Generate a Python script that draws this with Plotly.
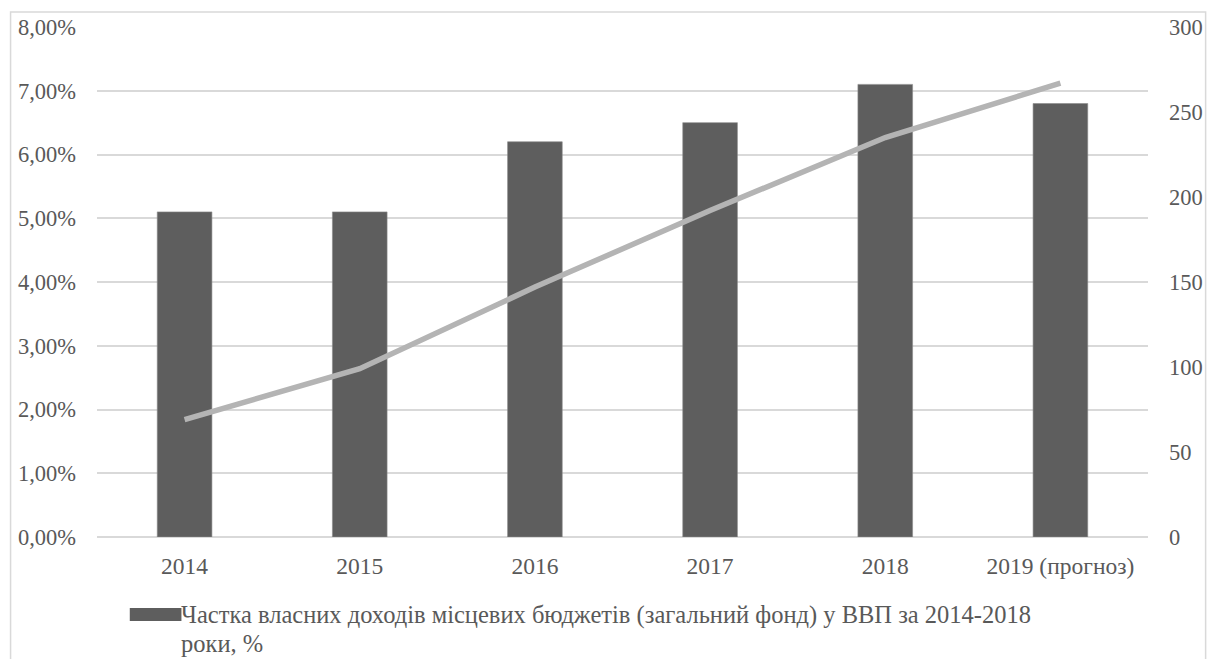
import plotly.graph_objects as go

# Categories and series
years = ["2014", "2015", "2016", "2017", "2018", "2019 (прогноз)"]
share_pct = [5.10, 5.10, 6.20, 6.50, 7.10, 6.80]          # % of GDP (left axis)
revenue = [69, 99, 147, 192, 235, 267]                     # right axis
bar_name_lines = ["Частка власних доходів місцевих бюджетів (загальний фонд) у ВВП за 2014-2018",
                  "роки, %"]

W, H = 1215, 659
L, R, T, B = 97, 60, 27, 122
plot_w = W - L - R
plot_h = H - T - B

def px_x(px):
    return (px - L) / plot_w

def px_y(py):
    return (H - B - py) / plot_h

FONT = "Liberation Serif"
TXT = "#595959"
GRID = "#d9d9d9"
BAR = "#5e5e5e"
LINE = "#b4b4b4"

fig = go.Figure()
fig.add_trace(go.Bar(
    x=years, y=[v / 100 for v in share_pct], name=" ".join(bar_name_lines),
    marker=dict(color=BAR, line=dict(color="#8a8a8a", width=0.6)),
    yaxis="y", showlegend=False,
))
fig.add_trace(go.Scatter(
    x=years, y=revenue, mode="lines",
    line=dict(color=LINE, width=5.5),
    yaxis="y2", showlegend=False,
))

# Legend entry for the bar series (symbol + two text lines)
fig.add_shape(type="rect", xref="paper", yref="paper",
              x0=px_x(130), x1=px_x(182), y0=px_y(621), y1=px_y(608),
              fillcolor=BAR, line=dict(width=0))
for i, line_text in enumerate(bar_name_lines):
    fig.add_annotation(xref="paper", yref="paper", x=px_x(181), y=px_y(615 + 28 * i),
                       xanchor="left", yanchor="middle", align="left", showarrow=False,
                       borderpad=0,
                       text=line_text, font=dict(family=FONT, size=24.5, color=TXT))

# Outer chart frame
fig.add_shape(type="rect", xref="paper", yref="paper",
              x0=px_x(10), x1=px_x(1213), y0=px_y(700), y1=px_y(12),
              line=dict(color="#d9d9d9", width=1.5), fillcolor="rgba(0,0,0,0)", layer="below")

fig.update_layout(
    width=W, height=H,
    margin=dict(l=L, r=R, t=T, b=B),
    paper_bgcolor="white", plot_bgcolor="white",
    separators=", ",
    bargap=0.688,
    font=dict(family=FONT, size=23, color=TXT),
    xaxis=dict(showgrid=False, showline=False, ticks="", ticklabelstandoff=12,
               tickfont=dict(family=FONT, size=23.5, color=TXT)),
    yaxis=dict(range=[0, 0.08], dtick=0.01, tickformat=".2%",
               showgrid=True, gridcolor=GRID, gridwidth=1.5,
               zeroline=True, zerolinecolor=GRID, zerolinewidth=1.5,
               showline=False, ticks="", ticklabelstandoff=20,
               tickfont=dict(family=FONT, size=22.5, color=TXT)),
    yaxis2=dict(range=[0, 300], dtick=50, overlaying="y", side="right",
                showgrid=False, zeroline=False, showline=False, ticks="",
                ticklabelstandoff=20,
                tickfont=dict(family=FONT, size=22.5, color=TXT)),
    showlegend=False,
)

fig.write_html("out.html")
